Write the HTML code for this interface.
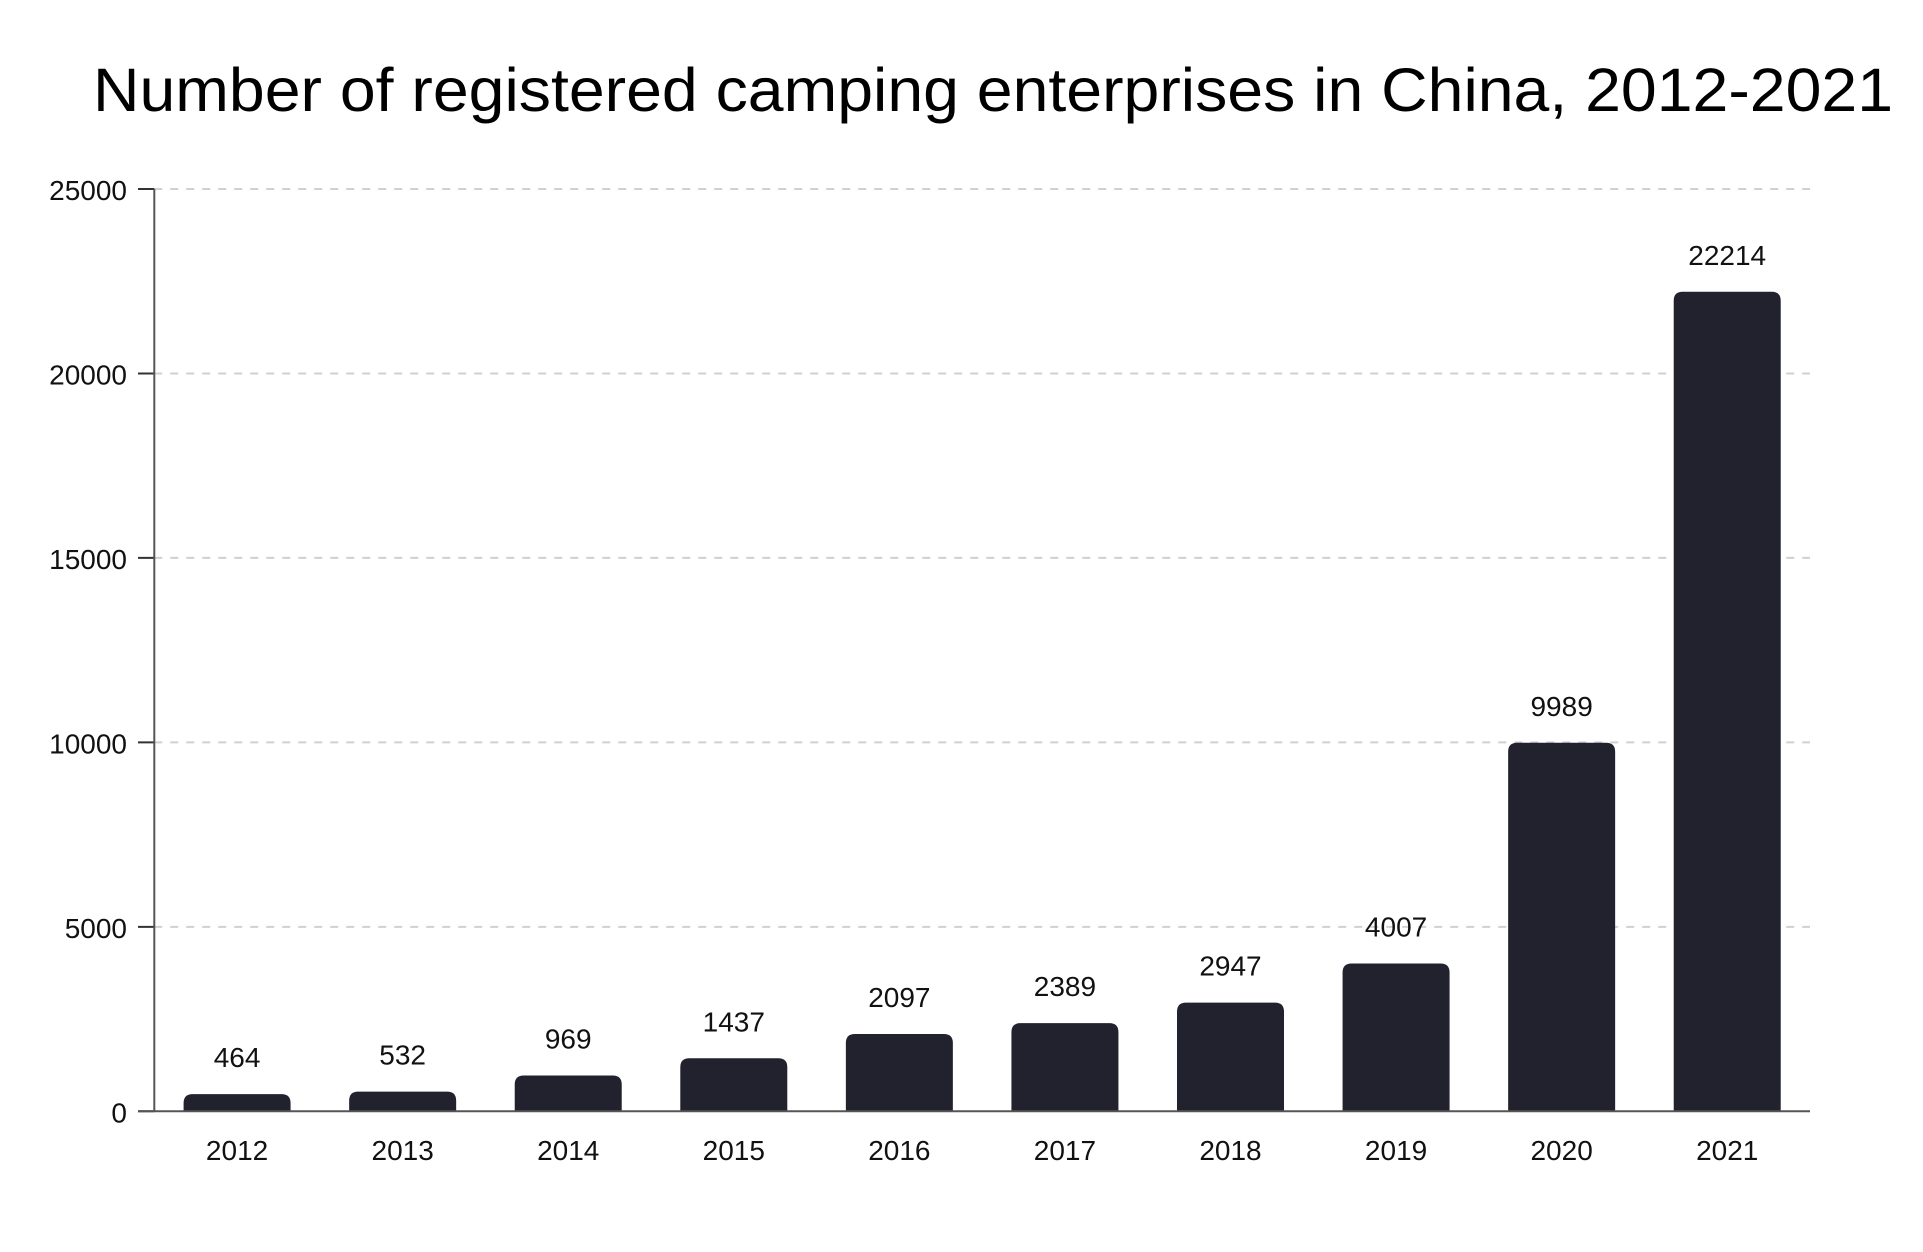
<!DOCTYPE html>
<html><head><meta charset="utf-8"><style>
html,body{margin:0;padding:0;background:#fff;}
svg{display:block;font-family:"Liberation Sans",sans-serif;}
</style></head><body>
<svg id="chart" width="1923" height="1252">
<text x="93" y="111" font-size="61" fill="#000" textLength="1800" lengthAdjust="spacingAndGlyphs">Number of registered camping enterprises in China, 2012-2021</text>
<g id="grid"></g><g id="bars"></g><g id="axes"></g>
</svg>
<script>
const categories = ["2012","2013","2014","2015","2016","2017","2018","2019","2020","2021"];
const values = [464,532,969,1437,2097,2389,2947,4007,9989,22214];
const yTicks = [0,5000,10000,15000,20000,25000];
const NS="http://www.w3.org/2000/svg";
const x0=154.3,x1=1810,yTop=189,yBot=1111.3,yMax=25000;
const band=(x1-x0)/categories.length,bw=107;
function y(v){return yBot-(v/yMax)*(yBot-yTop);}
function xc(i){return x0+band*(i+0.5);}
function mk(tag,attrs,parent){const e=document.createElementNS(NS,tag);for(const k in attrs)e.setAttribute(k,attrs[k]);parent.appendChild(e);return e;}
const grid=document.getElementById('grid'),bars=document.getElementById('bars'),axes=document.getElementById('axes');
yTicks.forEach(t=>{
  if(t>0){const g=mk('line',{x1:x0,x2:x1,y1:y(t),y2:y(t),stroke:'#d0d0d0','stroke-width':2,'stroke-dasharray':'8 8'},grid);
  
  }
  const tk=mk('line',{x1:138,x2:x0,y1:y(t),y2:y(t),stroke:'#333','stroke-width':2},axes);
  
  
  const l=mk('text',{x:127,y:y(t)+11,'font-size':28,'text-anchor':'end',fill:'#111'},axes);
  l.textContent=t;
  
  
});
categories.forEach((c,i)=>{
  const v=values[i],top=y(v),h=yBot-top,r=Math.min(9,h);
  const cx=xc(i),L=cx-bw/2,R=cx+bw/2;
  const d=`M${L},${yBot}V${top+r}Q${L},${top} ${L+r},${top}H${R-r}Q${R},${top} ${R},${top+r}V${yBot}Z`;
  const b=mk('path',{d:d,fill:'#22212e'},bars);
  
  
  const vl=mk('text',{x:cx,y:top-27,'font-size':28,'text-anchor':'middle',fill:'#111'},bars);
  vl.textContent=v;
  
  
  const xl=mk('text',{x:cx,y:1160,'font-size':28,'text-anchor':'middle',fill:'#111'},axes);
  xl.textContent=c;
  
  
});
const ya=mk('line',{x1:x0,x2:x0,y1:yTop,y2:yBot,stroke:'#555','stroke-width':2},axes);


const xa=mk('line',{x1:138,x2:x1,y1:yBot,y2:yBot,stroke:'#555','stroke-width':2},axes);


</script>
</body></html>
